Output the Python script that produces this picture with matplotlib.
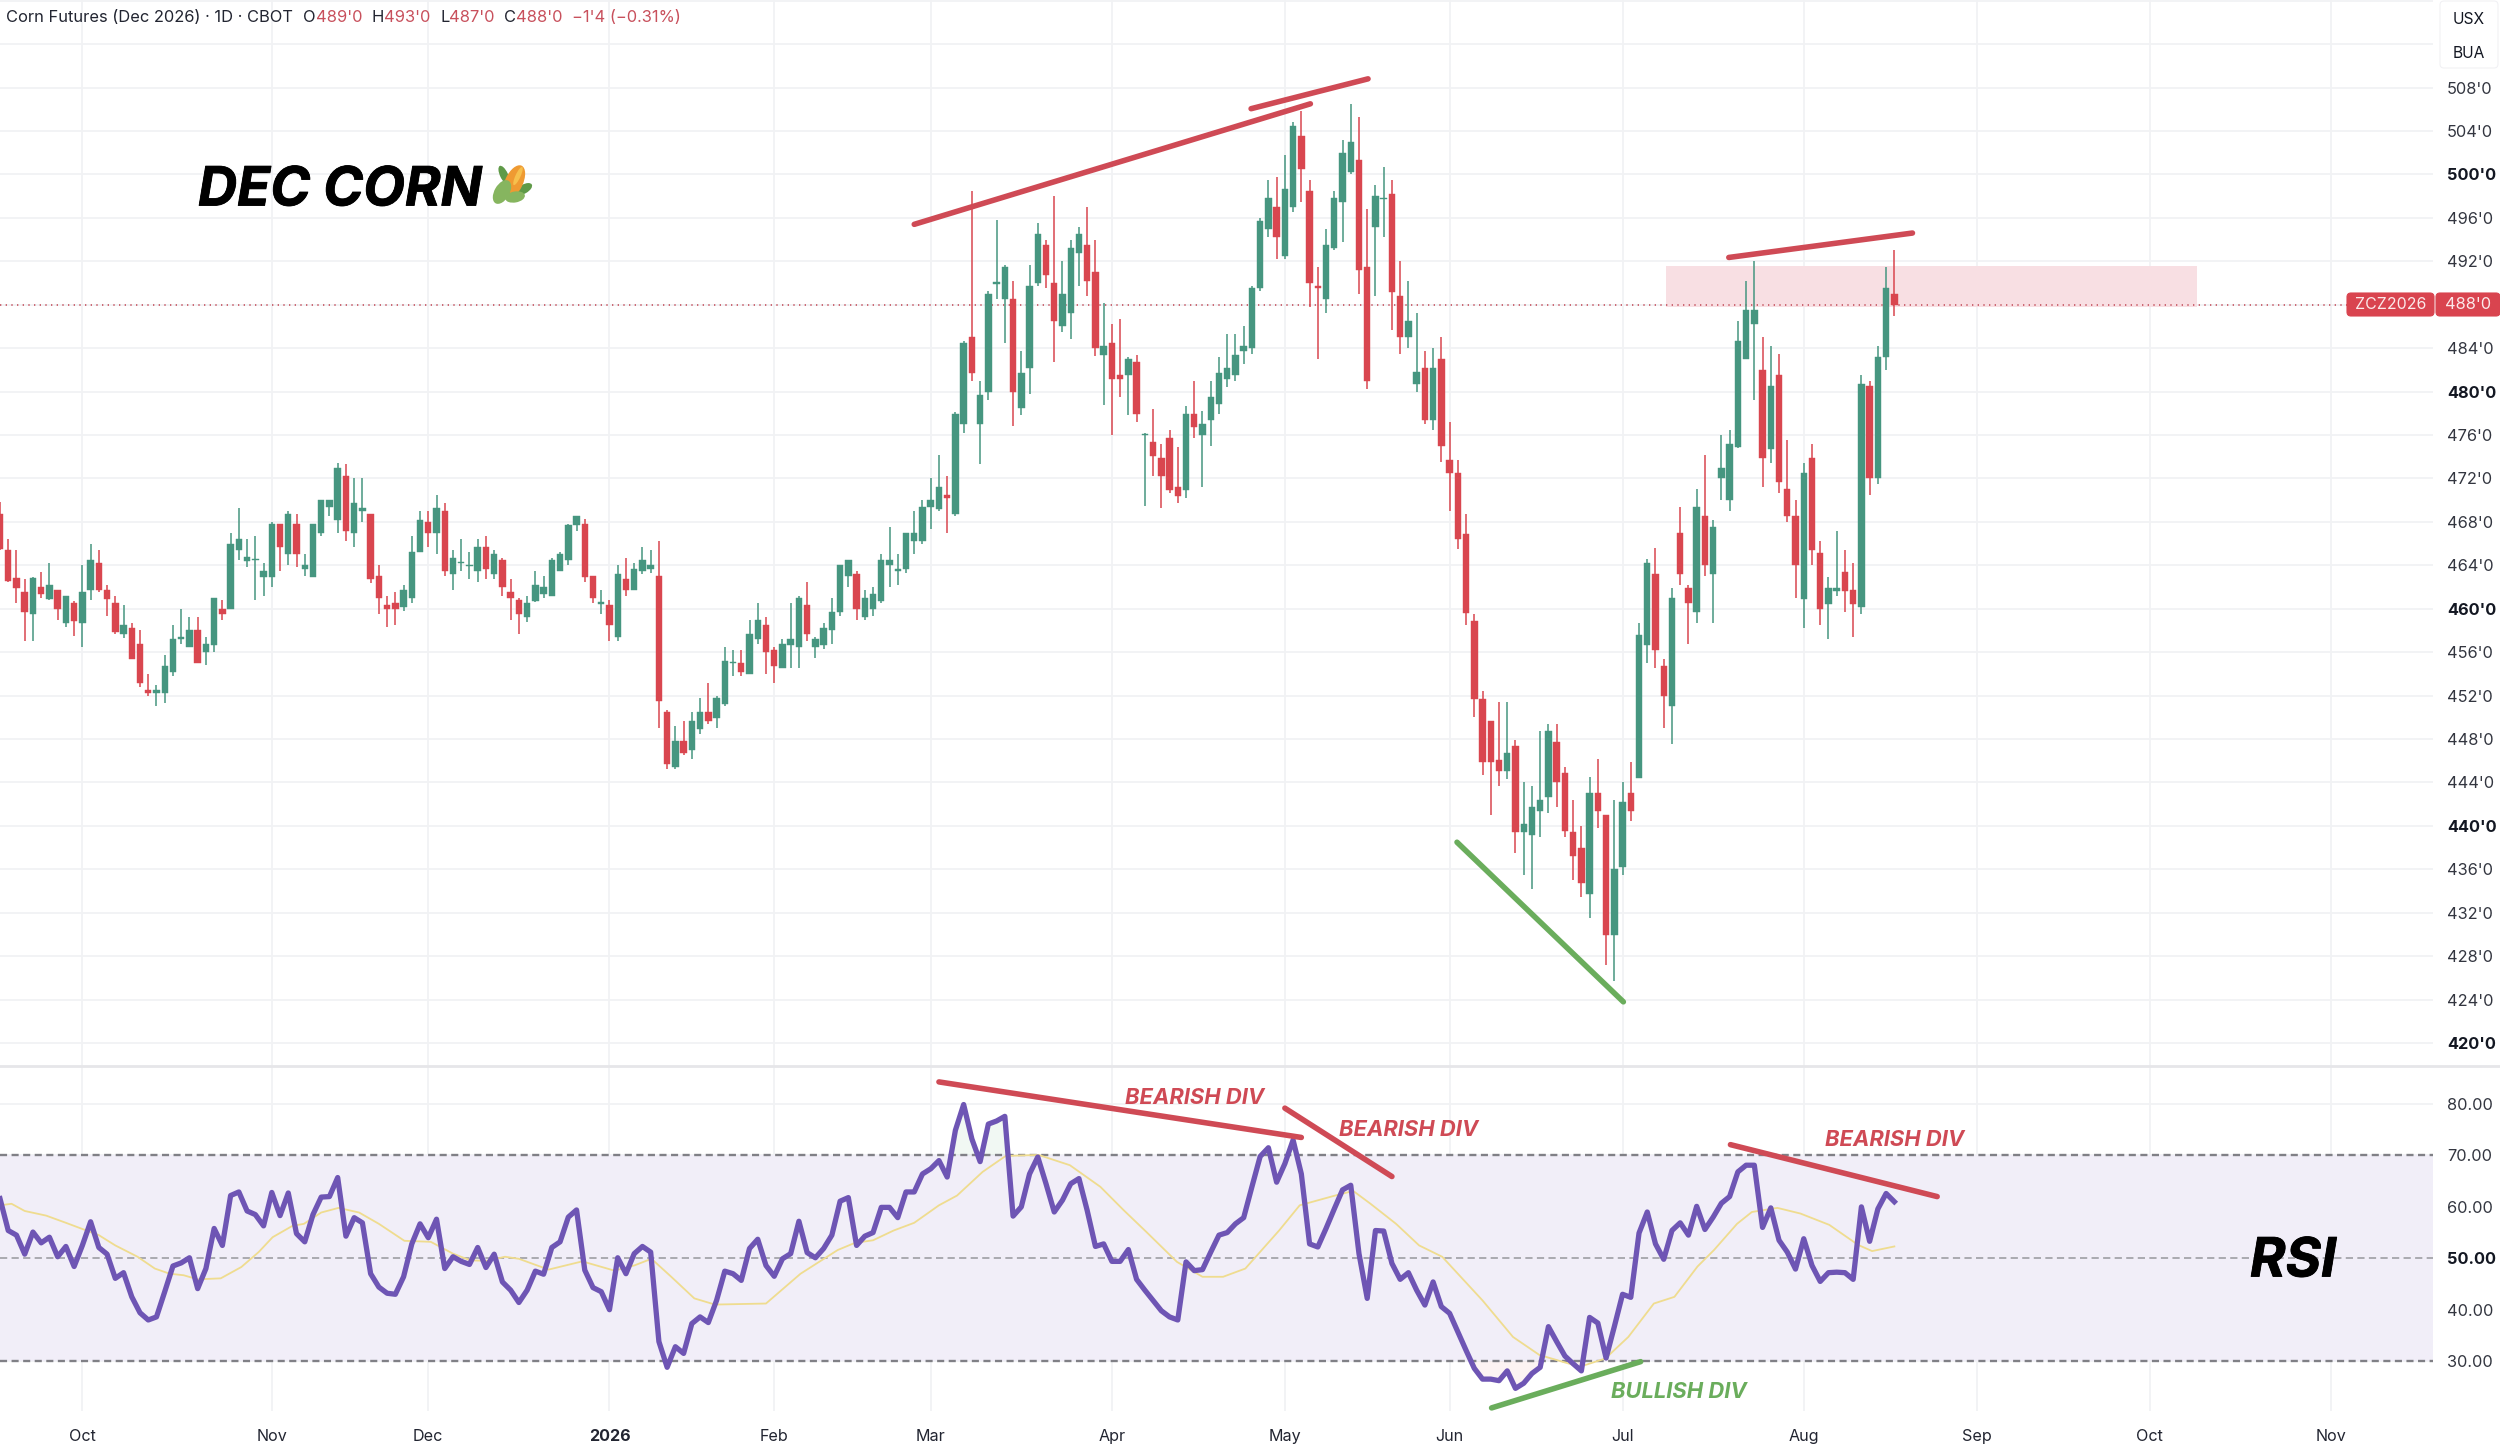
import matplotlib
matplotlib.use("Agg")
import matplotlib.pyplot as plt
import matplotlib.patheffects as pe
from matplotlib.patches import Ellipse, FancyBboxPatch
from matplotlib.transforms import IdentityTransform

W, H = 2500, 1447

# daily bars, cents per bushel
opens = [
    468.7, 465.4, 462.8, 461.5, 459.5, 462.0, 460.9, 461.7, 458.7, 460.5,
    458.7, 461.7, 464.2, 461.7, 460.5, 457.7, 458.2, 456.8, 452.5, 452.2,
    452.2, 454.2, 457.2, 456.5, 458.0, 456.0, 456.7, 460.0, 460.0, 465.4,
    464.4, 464.5, 462.9, 462.9, 467.8, 465.0, 467.8, 463.7, 462.9, 467.0,
    469.4, 468.2, 472.2, 467.0, 469.0, 468.7, 463.0, 460.3, 460.5, 460.2,
    461.0, 465.2, 468.0, 467.0, 469.0, 463.2, 464.2, 463.9, 463.5, 465.7,
    463.2, 464.5, 461.5, 460.8, 459.2, 460.7, 461.4, 461.2, 463.5, 464.5,
    467.7, 467.8, 463.0, 460.4, 460.3, 457.4, 462.7, 461.7, 463.5, 463.7,
    463.0, 450.5, 445.4, 447.8, 447.0, 448.9, 450.5, 449.9, 451.2, 455.0,
    455.0, 454.0, 457.2, 458.5, 456.2, 454.5, 456.7, 456.5, 460.3, 456.5,
    456.7, 458.0, 459.7, 463.0, 463.2, 459.2, 460.0, 460.7, 464.0, 463.5,
    463.7, 466.2, 466.2, 469.4, 469.2, 470.5, 468.7, 477.0, 485.0, 477.0,
    480.0, 489.9, 488.5, 488.5, 478.5, 482.2, 490.0, 493.5, 490.0, 486.0,
    487.2, 492.8, 493.5, 491.0, 483.4, 484.5, 481.5, 481.5, 482.7, 476.0,
    475.4, 473.9, 475.7, 471.2, 470.9, 477.9, 476.0, 477.4, 478.9, 481.2,
    481.5, 483.7, 484.0, 489.5, 495.0, 497.0, 492.5, 497.0, 503.5, 498.5,
    489.7, 488.5, 493.2, 497.5, 500.2, 501.3, 491.5, 495.2, 497.7, 498.2,
    488.8, 485.0, 480.7, 482.2, 477.4, 483.0, 473.7, 472.5, 466.9, 458.9,
    451.7, 449.7, 446.1, 445.1, 447.4, 439.4, 439.2, 441.4, 442.7, 447.7,
    444.9, 439.4, 438.0, 433.7, 443.0, 441.0, 430.0, 436.2, 443.0, 444.4,
    456.7, 463.2, 454.7, 451.0, 467.0, 461.9, 459.7, 468.5, 463.2, 472.0,
    470.0, 474.9, 483.0, 486.2, 482.0, 474.7, 481.5, 471.0, 468.5, 460.9,
    473.9, 465.1, 460.4, 461.6, 463.4, 461.7, 460.2, 480.5, 472.0, 483.2, 489.0,
]
highs = [
    469.8, 466.4, 465.4, 462.7, 462.9, 463.4, 464.2, 461.7, 461.2, 460.7,
    464.0, 466.0, 465.4, 462.2, 461.2, 460.3, 458.7, 458.0, 454.0, 453.0,
    455.7, 458.5, 460.0, 459.2, 459.2, 457.4, 461.0, 460.8, 467.0, 469.3,
    466.4, 466.7, 464.2, 468.0, 467.8, 469.0, 468.7, 465.0, 467.8, 470.0,
    470.0, 473.4, 473.3, 472.0, 472.0, 468.7, 464.0, 461.2, 461.5, 462.2,
    466.7, 469.0, 469.0, 470.5, 469.7, 465.4, 466.4, 465.2, 466.4, 466.7,
    465.4, 464.7, 462.7, 461.0, 461.2, 463.5, 463.0, 464.7, 465.2, 467.8,
    468.5, 468.3, 463.0, 461.7, 460.8, 464.0, 464.7, 464.2, 465.7, 465.4,
    466.2, 450.7, 449.2, 449.7, 450.5, 451.8, 453.2, 452.0, 456.5, 456.2,
    456.2, 459.0, 460.5, 459.2, 456.5, 457.2, 460.5, 461.2, 462.5, 457.4,
    458.7, 461.0, 464.0, 464.5, 463.5, 461.7, 462.0, 465.0, 467.5, 465.0,
    467.0, 469.0, 470.0, 472.0, 474.2, 472.2, 478.1, 484.7, 498.5, 481.0,
    489.3, 495.8, 491.7, 490.2, 483.7, 491.7, 495.5, 494.0, 498.0, 492.0,
    494.0, 495.2, 497.0, 494.0, 488.2, 486.2, 486.7, 483.2, 483.4, 476.2,
    478.4, 475.2, 476.5, 474.9, 478.7, 481.0, 478.2, 481.0, 483.2, 485.3,
    485.3, 486.0, 489.7, 496.0, 499.5, 499.8, 501.8, 504.8, 505.8, 499.5,
    491.5, 495.0, 498.5, 503.2, 506.5, 505.3, 496.8, 499.0, 500.7, 499.5,
    492.0, 490.2, 487.2, 483.7, 484.0, 485.0, 477.2, 473.7, 468.7, 459.5,
    452.4, 449.7, 451.4, 451.4, 447.9, 444.0, 443.7, 448.7, 449.4, 449.4,
    445.4, 442.4, 440.0, 444.5, 446.2, 441.0, 442.4, 444.0, 445.9, 458.7,
    464.6, 465.6, 455.4, 461.9, 469.4, 462.2, 471.0, 474.2, 468.2, 476.0,
    476.5, 486.5, 490.2, 492.0, 485.0, 484.2, 483.5, 475.5, 470.0, 473.4,
    475.2, 466.2, 462.9, 467.2, 465.4, 464.2, 481.5, 481.0, 484.2, 491.5, 493.0,
]
lows = [
    465.4, 462.5, 460.5, 457.0, 457.0, 461.0, 460.8, 459.0, 458.3, 457.5,
    456.5, 460.8, 461.5, 459.3, 457.7, 457.3, 455.4, 452.8, 452.0, 451.0,
    451.3, 453.8, 456.8, 456.5, 455.0, 454.8, 456.0, 459.0, 460.0, 464.5,
    463.8, 460.8, 461.2, 462.0, 463.5, 464.0, 463.8, 463.0, 462.9, 466.7,
    468.5, 467.0, 466.2, 465.7, 468.0, 462.4, 459.5, 458.3, 458.5, 459.8,
    460.5, 465.2, 465.7, 465.0, 463.0, 461.7, 463.5, 462.7, 462.5, 462.7,
    462.7, 461.2, 459.0, 457.7, 458.8, 460.6, 461.0, 461.2, 463.5, 464.0,
    467.2, 462.5, 460.5, 459.5, 457.0, 457.0, 461.2, 461.7, 463.2, 463.3,
    449.0, 445.2, 445.2, 446.5, 446.2, 448.5, 449.4, 449.0, 451.0, 453.8,
    453.8, 454.0, 456.8, 454.0, 453.2, 454.5, 454.5, 454.5, 457.0, 455.5,
    456.3, 456.8, 459.3, 462.0, 459.0, 459.0, 459.3, 460.5, 462.0, 462.2,
    463.3, 465.0, 466.0, 467.3, 469.0, 467.0, 468.5, 476.2, 481.0, 473.3,
    479.2, 488.5, 484.5, 476.8, 477.8, 479.8, 489.7, 489.5, 482.7, 485.5,
    484.8, 489.7, 488.8, 483.3, 478.8, 476.0, 479.5, 477.8, 477.2, 469.5,
    472.2, 469.3, 470.7, 469.7, 470.2, 475.7, 471.2, 475.0, 477.9, 480.4,
    481.0, 482.5, 483.5, 489.3, 494.2, 492.2, 492.2, 496.5, 497.5, 487.8,
    483.0, 487.2, 493.0, 493.8, 500.0, 489.0, 480.2, 488.8, 494.2, 485.7,
    483.5, 484.0, 480.0, 477.0, 476.5, 473.5, 469.0, 465.5, 458.5, 450.0,
    444.7, 441.0, 443.7, 444.3, 437.5, 435.5, 434.2, 439.0, 441.2, 441.7,
    439.0, 435.0, 433.5, 431.5, 439.8, 427.2, 425.7, 435.5, 440.5, 444.4,
    455.0, 454.5, 449.0, 447.5, 462.2, 456.8, 458.7, 463.0, 458.7, 470.0,
    469.0, 474.8, 483.0, 479.2, 471.2, 473.4, 470.7, 468.0, 461.0, 458.2,
    464.0, 458.5, 457.2, 461.2, 459.7, 457.4, 459.5, 470.5, 471.5, 482.0, 487.0,
]
closes = [
    465.5, 462.6, 461.9, 459.7, 462.8, 461.4, 462.2, 460.0, 461.2, 458.9,
    461.5, 464.5, 461.7, 460.9, 457.9, 458.5, 455.4, 453.2, 452.2, 452.5,
    454.7, 457.2, 457.4, 458.0, 455.0, 456.8, 461.0, 459.5, 466.0, 466.4,
    464.8, 464.6, 463.5, 467.8, 465.7, 468.7, 465.0, 464.0, 467.8, 470.0,
    470.0, 473.0, 467.2, 469.7, 469.3, 462.7, 461.0, 460.0, 460.0, 461.7,
    465.2, 468.2, 467.0, 469.3, 463.5, 464.7, 464.3, 464.0, 465.7, 463.7,
    465.0, 462.0, 461.0, 459.5, 460.5, 462.2, 462.0, 464.5, 465.0, 467.7,
    468.5, 462.9, 461.0, 460.6, 458.5, 463.2, 461.7, 463.7, 464.5, 464.0,
    451.5, 445.7, 447.8, 446.7, 449.7, 450.5, 449.7, 451.8, 455.2, 455.1,
    454.2, 457.7, 459.0, 456.0, 454.7, 456.8, 457.2, 461.0, 457.7, 457.2,
    458.2, 459.7, 464.0, 464.5, 460.0, 461.0, 461.4, 464.5, 464.5, 463.7,
    467.0, 467.0, 469.4, 470.0, 471.2, 470.2, 477.9, 484.5, 481.7, 479.7,
    489.0, 490.1, 491.5, 480.0, 481.7, 489.7, 494.5, 490.7, 486.5, 489.0,
    493.2, 494.5, 490.2, 484.0, 484.2, 481.2, 481.2, 483.0, 477.9, 476.1,
    474.1, 472.2, 470.9, 470.4, 477.9, 476.7, 477.0, 479.5, 481.7, 482.2,
    483.4, 484.2, 489.5, 495.7, 497.8, 494.2, 498.7, 504.5, 500.5, 490.0,
    489.5, 493.5, 497.8, 502.0, 503.0, 491.2, 481.0, 498.0, 497.8, 489.2,
    485.0, 486.5, 481.8, 477.4, 482.2, 475.0, 472.5, 466.4, 459.6, 451.7,
    445.9, 445.9, 445.1, 446.7, 439.4, 440.2, 441.7, 442.4, 448.7, 444.0,
    439.5, 437.2, 434.7, 443.0, 441.4, 430.0, 436.0, 442.2, 441.4, 457.6,
    464.2, 456.2, 452.0, 461.0, 463.2, 460.5, 469.4, 464.0, 467.5, 473.0,
    475.2, 484.7, 487.5, 487.5, 473.9, 480.5, 471.7, 468.5, 464.0, 472.5,
    465.4, 460.0, 461.9, 461.9, 461.6, 460.4, 480.7, 472.0, 483.2, 489.5, 488.0,
]
rsi = [
    61.6, 55.4, 54.5, 50.8, 55.1, 53.0, 54.1, 50.3, 52.3, 48.4,
    52.5, 57.1, 52.1, 50.8, 46.1, 47.2, 42.5, 39.4, 38.0, 38.6,
    43.5, 48.5, 49.1, 50.1, 44.1, 48.0, 55.8, 52.5, 62.2, 62.9,
    59.2, 58.5, 56.3, 62.8, 58.3, 62.7, 54.8, 53.2, 58.5, 61.9,
    62.0, 65.7, 54.3, 57.9, 56.9, 47.0, 44.4, 43.2, 43.0, 46.4,
    52.8, 56.7, 54.0, 57.6, 48.0, 50.3, 49.4, 48.8, 52.1, 48.2,
    50.8, 45.4, 43.8, 41.4, 43.8, 47.5, 46.9, 52.1, 53.2, 58.0,
    59.4, 47.7, 44.3, 43.5, 40.0, 50.1, 47.0, 50.9, 52.3, 51.2,
    33.8, 28.8, 32.8, 31.5, 37.3, 38.6, 37.5, 41.8, 47.5, 47.0,
    45.7, 51.9, 53.7, 48.6, 46.5, 49.9, 50.9, 57.2, 51.1, 50.1,
    51.9, 54.5, 61.1, 61.8, 52.5, 54.3, 55.0, 59.9, 59.9, 57.9,
    62.9, 62.9, 66.4, 67.4, 69.0, 65.8, 74.9, 79.9, 73.2, 68.8,
    76.1, 76.7, 77.6, 58.2, 60.0, 66.4, 69.7, 64.5, 59.0, 61.3,
    64.5, 65.5, 59.3, 52.3, 52.8, 49.4, 49.4, 51.7, 45.9, 43.8,
    41.8, 39.8, 38.6, 38.0, 49.3, 47.6, 47.8, 51.2, 54.5, 55.0,
    56.7, 57.9, 63.9, 69.8, 71.5, 64.8, 68.4, 73.0, 66.4, 52.8,
    52.2, 55.8, 59.6, 63.3, 64.2, 50.9, 42.2, 55.4, 55.3, 49.0,
    45.9, 47.2, 43.8, 40.9, 45.4, 40.6, 39.3, 35.7, 32.1, 28.6,
    26.5, 26.5, 26.2, 28.1, 24.7, 25.7, 27.6, 28.8, 36.7, 33.8,
    31.0, 29.5, 28.1, 38.5, 37.4, 30.6, 36.7, 43.0, 42.4, 54.9,
    59.0, 52.8, 49.8, 55.4, 56.9, 54.5, 60.1, 55.6, 58.0, 60.7,
    62.0, 66.8, 68.1, 68.1, 56.0, 59.8, 53.5, 51.2, 47.9, 53.8,
    48.6, 45.5, 47.2, 47.3, 47.2, 45.9, 60.0, 53.3, 59.6, 62.6, 61.0,
]
# smoothing line read at its bends
ma_x = [0, 1.4, 3, 5.6, 8, 10.5, 12, 14, 16.7, 18.8, 20.6, 22.3, 24, 26.8, 29.3, 31.4, 33.1, 35.5,
        36.9, 39, 41.1, 43.6, 46, 49.1, 52.3, 55, 57.1, 59.2, 61.3, 63, 66.6, 70.7, 74.6, 77, 79.1,
        81.5, 84.3, 86.8, 93, 97.2, 101.7, 103.8, 106, 108.5, 111, 114, 116.2, 119.3, 122.1, 126.1,
        129.9, 133.6, 136.4, 139.2, 142.9, 146, 148.5, 151.2, 155.3, 157.8, 162.1, 164.3, 166.4,
        169.5, 172.3, 175.1, 180, 183.7, 186.9, 191.8, 194.9, 197.7, 200.8, 203.3, 206.1, 208.1,
        210.9, 212.7, 215.8, 218.6, 222.1, 225.6, 227.3, 230]
ma_y = [60.3, 60.6, 59.2, 58.3, 56.9, 55.4, 54.5, 52.5, 50.3, 48.0, 47.0, 46.7, 45.9, 46.1, 48.3, 51.2, 54.1, 56.3,
        56.7, 58.9, 59.8, 58.9, 56.7, 53.4, 53.2, 50.9, 49.6, 49.5, 50.3, 49.9, 47.8, 49.4, 47.6, 48.6, 49.9,
        46.4, 42.2, 41.0, 41.2, 47.0, 51.6, 53.0, 53.5, 55.4, 56.9, 60.3, 62.2, 66.8, 69.9, 70.1,
        68.1, 63.9, 59.4, 55.1, 49.3, 46.4, 46.4, 48.0, 55.4, 60.3, 62.2, 63.1, 60.6,
        56.7, 52.5, 50.3, 41.8, 34.7, 31.2, 28.9, 30.5, 34.7, 41.2, 42.5, 48.4, 51.6,
        56.7, 59.0, 59.8, 58.7, 56.5, 52.6, 51.4, 52.3]

month_pos = [10, 33, 52, 74, 94, 113, 135, 156, 176, 197, 219, 240, 261, 283]
month_labels = ["Oct", "Nov", "Dec", "2026", "Feb", "Mar", "Apr", "May", "Jun", "Jul", "Aug", "Sep", "Oct", "Nov"]
price_ticks = list(range(420, 520, 4))
rsi_ticks = [30, 40, 50, 60, 70, 80]

# drawn trend lines: (bar, value) ends
price_lines = [
    ([111.0, 159.1], [495.4, 506.5], "red"),
    ([151.9, 166.1], [506.05, 508.8], "red"),
    ([209.9, 232.2], [492.35, 494.6], "red"),
    ([176.9, 197.1], [438.5, 423.8], "green"),
]
rsi_lines = [
    ([114.0, 158.0], [84.3, 73.5], "red"),
    ([156.0, 169.0], [79.2, 65.9], "red"),
    ([210.1, 235.2], [72.1, 62.0], "red"),
    ([181.1, 199.2], [20.9, 29.9], "green"),
]

UP = "#469680"
DOWN = "#d9464f"
RED = "#cf4a55"
GREEN = "#6aad5c"
GRID = "#f1f2f4"
TXT = "#222531"
FONT = "Inter"

plt.rcParams["font.family"] = [FONT, "DejaVu Sans"]

fig = plt.figure(figsize=(W / 100, H / 100), dpi=100, facecolor="white")
split = 1067
bottom = 1411
ax = fig.add_axes([0, 1 - split / H, 2433 / W, split / H])
ax2 = fig.add_axes([0, 1 - bottom / H, 2433 / W, (bottom - split) / H], sharex=ax)

xs = list(range(len(opens)))
colors = [UP if c >= o else DOWN for o, c in zip(opens, closes)]
tops = [max(o, c) for o, c in zip(opens, closes)]
bots = [min(o, c) for o, c in zip(opens, closes)]

ax.vlines(xs, lows, highs, colors=colors, lw=1.1, zorder=4)
ax.bar(xs, [t - b for t, b in zip(tops, bots)], bottom=bots, width=0.78, color=colors,
       edgecolor=colors, linewidth=0.3, zorder=5)

ax.axhspan(487.75, 491.6, xmin=202.3 / 295.4, xmax=266.7 / 295.4, color="#f8dfe3", lw=0, zorder=2)
ax.axhline(488, color="#c5525e", lw=1.2, linestyle=(0, (0.8, 2.6)), zorder=3)

for xp, yp, name in price_lines:
    ax.plot(xp, yp, color=RED if name == "red" else GREEN, lw=4.0, solid_capstyle="round", zorder=6)

ax.set_xlim(0, 295.4)
ax.set_ylim(417.8, 516.06)
ax.set_yticks(price_ticks)
ax.set_yticklabels(["" if p > 508 else f"{p}'0" for p in price_ticks])

ax2.axhspan(30, 70, color="#f1eef8", lw=0, zorder=1)
ax2.fill_between(xs, rsi, 70, where=[r > 70 for r in rsi], interpolate=True, color="#7fc08f", alpha=0.10, lw=0, zorder=2)
ax2.fill_between(xs, rsi, 30, where=[r < 30 for r in rsi], interpolate=True, color="#e58a8a", alpha=0.10, lw=0, zorder=2)
ax2.axhline(70, color="#808086", lw=1.7, linestyle=(0, (3.0, 1.9)), zorder=2)
ax2.axhline(50, color="#a4a4aa", lw=1.3, linestyle=(0, (4, 2.4)), zorder=2)
ax2.axhline(30, color="#808086", lw=1.7, linestyle=(0, (3.0, 1.9)), zorder=2)
ax2.plot(ma_x, ma_y, color="#efdc8f", lw=1.3, zorder=3)
ax2.plot(xs, rsi, color="#6e55b4", lw=3.8, solid_joinstyle="round", zorder=4)
for xp, yp, name in rsi_lines:
    ax2.plot(xp, yp, color=RED if name == "red" else GREEN, lw=4.0, solid_capstyle="round", zorder=6)

ax2.set_ylim(20.3, 87.2)
ax2.set_yticks(rsi_ticks)
ax2.set_yticklabels([f"{r}.00" for r in rsi_ticks])
ax2.set_xticks(month_pos)
ax2.set_xticklabels(month_labels)
ax2.get_xticklabels()[3].set_fontweight("bold")

for a in (ax, ax2):
    a.yaxis.tick_right()
    a.grid(True, color=GRID, lw=1.3, zorder=0)
    a.set_axisbelow(True)
    a.set_facecolor("white")
    for s in a.spines.values():
        s.set_visible(False)
    a.tick_params(axis="y", length=0, pad=10, labelsize=11.8, labelcolor="#333640")
    a.tick_params(axis="x", length=0, pad=13, labelsize=11.6, labelcolor=TXT)
ax.tick_params(axis="x", labelbottom=False)

# round levels are bold; labels live on the right side only after tick_right
for p, lab in zip(price_ticks, ax.get_yticklabels()):
    if p % 20 == 0:
        lab.set_fontweight("bold")
        lab.set_color("#131722")
ax2.get_yticklabels()[2].set_fontweight("bold")
ax2.get_yticklabels()[2].set_color("#131722")

# pane separator
fig.add_artist(plt.Line2D([0, 1], [1 - 1066 / H, 1 - 1066 / H], color="#e6e6e9", lw=2.0, zorder=3))


def put(x, y, s, **kw):
    kw.setdefault("va", "center")
    kw.setdefault("fontsize", 11.85)
    kw.setdefault("color", TXT)
    return fig.text(x / W, 1 - y / H, s, **kw)


def box(x0, y0, x1, y1, color, edge=None):
    p = FancyBboxPatch((x0 + 3, H - y1 + 3), x1 - x0 - 6, y1 - y0 - 6, boxstyle="round,pad=3,rounding_size=4",
                       facecolor=color, edgecolor=edge or color, lw=0.8, transform=IdentityTransform(), zorder=8)
    fig.add_artist(p)


# header line
put(6, 17, "Corn Futures (Dec 2026) · 1D · CBOT")
for x, letter, x2, val in [(303, "O", 316, "489'0"), (372, "H", 384, "493'0"), (440, "L", 449, "487'0"), (504, "C", 516, "488'0")]:
    put(x, 17, letter)
    put(x2, 17, val, color="#c8505c")
put(572, 17, "−1'4 (−0.31%)", color="#c8505c")

# currency / unit box
box(2440, 1, 2498, 68, "white", "#f1f1f4")
put(2469, 19, "USX", ha="center", fontsize=11.2, zorder=9, color="#131722")
put(2469, 53, "BUA", ha="center", fontsize=11.2, zorder=9, color="#131722")

# last price tags
box(2347, 293, 2434, 316, "#d9444f")
box(2436, 293, 2500, 316, "#d9444f")
put(2391, 304.5, "ZCZ2026", ha="center", color="#fbe9ea", zorder=9, fontsize=11.4)
put(2468, 304.5, "488'0", ha="center", color="#fbe9ea", zorder=9, fontsize=11.8)

# big labels, a little heavier than Inter bold
heavy = [pe.withStroke(linewidth=0.6, foreground="black")]
put(198, 191, "DEC CORN", fontsize=39, fontweight="bold", style="italic", color="black", path_effects=heavy)
put(2250, 1262, "RSI", fontsize=39, fontweight="bold", style="italic", color="black", path_effects=heavy)

for x, y, s in [(1125, 1098, "BEARISH DIV"), (1339, 1130, "BEARISH DIV"), (1825, 1140, "BEARISH DIV")]:
    put(x, y, s, fontsize=15.8, fontweight="bold", style="italic", color=RED)
put(1611, 1392, "BULLISH DIV", fontsize=15.8, fontweight="bold", style="italic", color=GREEN)


# corn emoji, no colour emoji font available
def blob(x, y, w, h, angle, color):
    fig.add_artist(Ellipse((x, H - y), w, h, angle=angle, facecolor=color, edgecolor="none",
                           transform=IdentityTransform(), zorder=7))


blob(504, 175, 8, 20, 25, "#5f9a48")
blob(524, 189, 9, 18, -60, "#5f9a48")
blob(514, 182, 18, 36, -25, "#ef9a32")
blob(518, 176, 5, 20, -25, "#f6c04d")
blob(502, 192, 15, 26, -30, "#86b55f")
blob(515, 197, 20, 11, 10, "#86b55f")

plt.savefig("out.png", dpi=100, facecolor="white")
